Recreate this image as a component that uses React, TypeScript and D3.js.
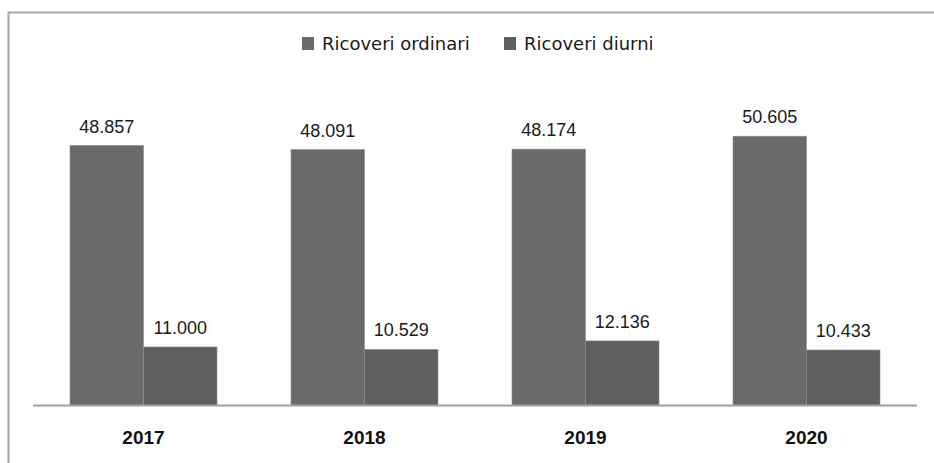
import React from "react";
import * as d3 from "d3";

const categories = ["2017", "2018", "2019", "2020"];
const seriesNames = ["Ricoveri ordinari", "Ricoveri diurni"];
const ordinari = [48857, 48091, 48174, 50605];
const diurni = [11000, 10529, 12136, 10433];
const colors = ["#6a6a6a", "#5f5f5f"];

const fmt = (v: number) => d3.format(",")(v).replace(/,/g, ".");

export default function App() {
  const W = 934, H = 463;
  const x0 = 33, x1 = 917, baseY = 405.5;
  const x = d3.scaleBand<string>().domain(categories).range([x0, x1]).paddingInner(0).paddingOuter(0);
  const bw = 73.5;
  const y = d3.scaleLinear().domain([0, 60000]).range([baseY, baseY - 60000 * (260 / 48857)]);
  const series = [ordinari, diurni];

  return (
    <svg width={W} height={H} style={{ position: "absolute", left: 0, top: 0, background: "#fff" }}>
      <rect x={8.5} y={12.5} width={1000} height={1000} fill="#fff" stroke="#a6a6a6" strokeWidth={2} />
      {categories.map((c, i) => {
        const cx = (x(c) as number) + x.bandwidth() / 2;
        return (
          <g key={c}>
            {series.map((s, j) => {
              const bx = cx - bw + j * bw;
              const top = y(s[i]);
              return (
                <g key={j}>
                  <rect x={bx} y={top} width={bw} height={baseY - top} fill={colors[j]} stroke="#8c8c8c" strokeWidth={0.6} />
                  <text x={bx + bw / 2} y={top - 13} textAnchor="middle" fontFamily="Liberation Sans, Arial, sans-serif" fontSize={18} fill="#1a1a1a">
                    {fmt(s[i])}
                  </text>
                </g>
              );
            })}
            <text x={cx} y={444} textAnchor="middle" fontFamily="Liberation Sans, Arial, sans-serif" fontWeight="bold" fontSize={19} fill="#111">
              {c}
            </text>
          </g>
        );
      })}
      <line x1={x0} x2={x1} y1={baseY} y2={baseY} stroke="#a0a0a0" strokeWidth={2} />
      {seriesNames.map((n, j) => {
        const lx = j === 0 ? 302 : 504;
        return (
          <g key={n}>
            <rect x={lx} y={37} width={12} height={13} fill={colors[j]} />
            <text x={lx + 20} y={50} fontFamily="DejaVu Sans, sans-serif" fontSize={18} fill="#1a1a1a">
              {n}
            </text>
          </g>
        );
      })}
    </svg>
  );
}
